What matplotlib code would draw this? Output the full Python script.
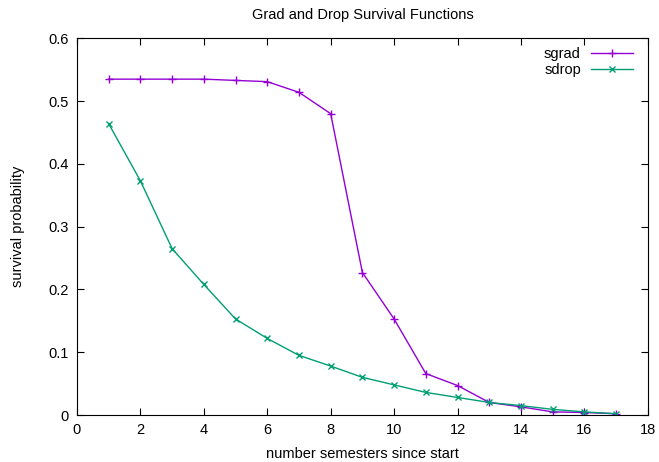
import matplotlib
matplotlib.use("Agg")
import matplotlib.pyplot as plt
import numpy as np

plt.rcParams['font.family'] = ['Liberation Sans', 'DejaVu Sans']

semesters = np.arange(1, 18)
sgrad = [0.535, 0.535, 0.535, 0.535, 0.533, 0.531, 0.514, 0.480, 0.227,
         0.153, 0.066, 0.047, 0.020, 0.013, 0.005, 0.004, 0.002]
sdrop = [0.464, 0.373, 0.265, 0.208, 0.153, 0.122, 0.095, 0.078, 0.060,
         0.048, 0.036, 0.028, 0.020, 0.015, 0.009, 0.005, 0.002]

fig = plt.figure(figsize=(6.59, 4.62), dpi=100)
ax = fig.add_axes([0.1168, 0.1017, 0.983 - 0.1168, 0.917 - 0.1017])

ax.plot(semesters, sgrad, color="#9400D3", marker="+", markersize=6, linewidth=1, label="sgrad")
ax.plot(semesters, sdrop, color="#009E73", marker="x", markersize=5, linewidth=1, label="sdrop")

ax.set_xlim(0, 18)
ax.set_ylim(0, 0.6)
ax.set_xticks(np.arange(0, 19, 2))
ax.set_yticks([0, 0.1, 0.2, 0.3, 0.4, 0.5, 0.6])
ax.set_yticklabels(["0", "0.1", "0.2", "0.3", "0.4", "0.5", "0.6"])
ax.tick_params(direction="in", top=True, right=True, labelsize=10.5, length=5, pad=6)

ax.set_xlabel("number semesters since start", fontsize=10.5, va="center")
ax.xaxis.set_label_coords(0.5, -0.1035)
ax.set_ylabel("survival probability", fontsize=10.5, va="center")
ax.yaxis.set_label_coords(-0.1033, 0.5)
ax.set_title("Grad and Drop Survival Functions", fontsize=10.5, pad=14)

ax.legend(loc="upper right", frameon=False, markerfirst=False, fontsize=10.5,
          handlelength=2.9, handletextpad=0.7, borderaxespad=0.5, borderpad=0.1,
          labelspacing=0.15, bbox_to_anchor=(0.99, 1.0))

fig.savefig("out.png", dpi=100)
